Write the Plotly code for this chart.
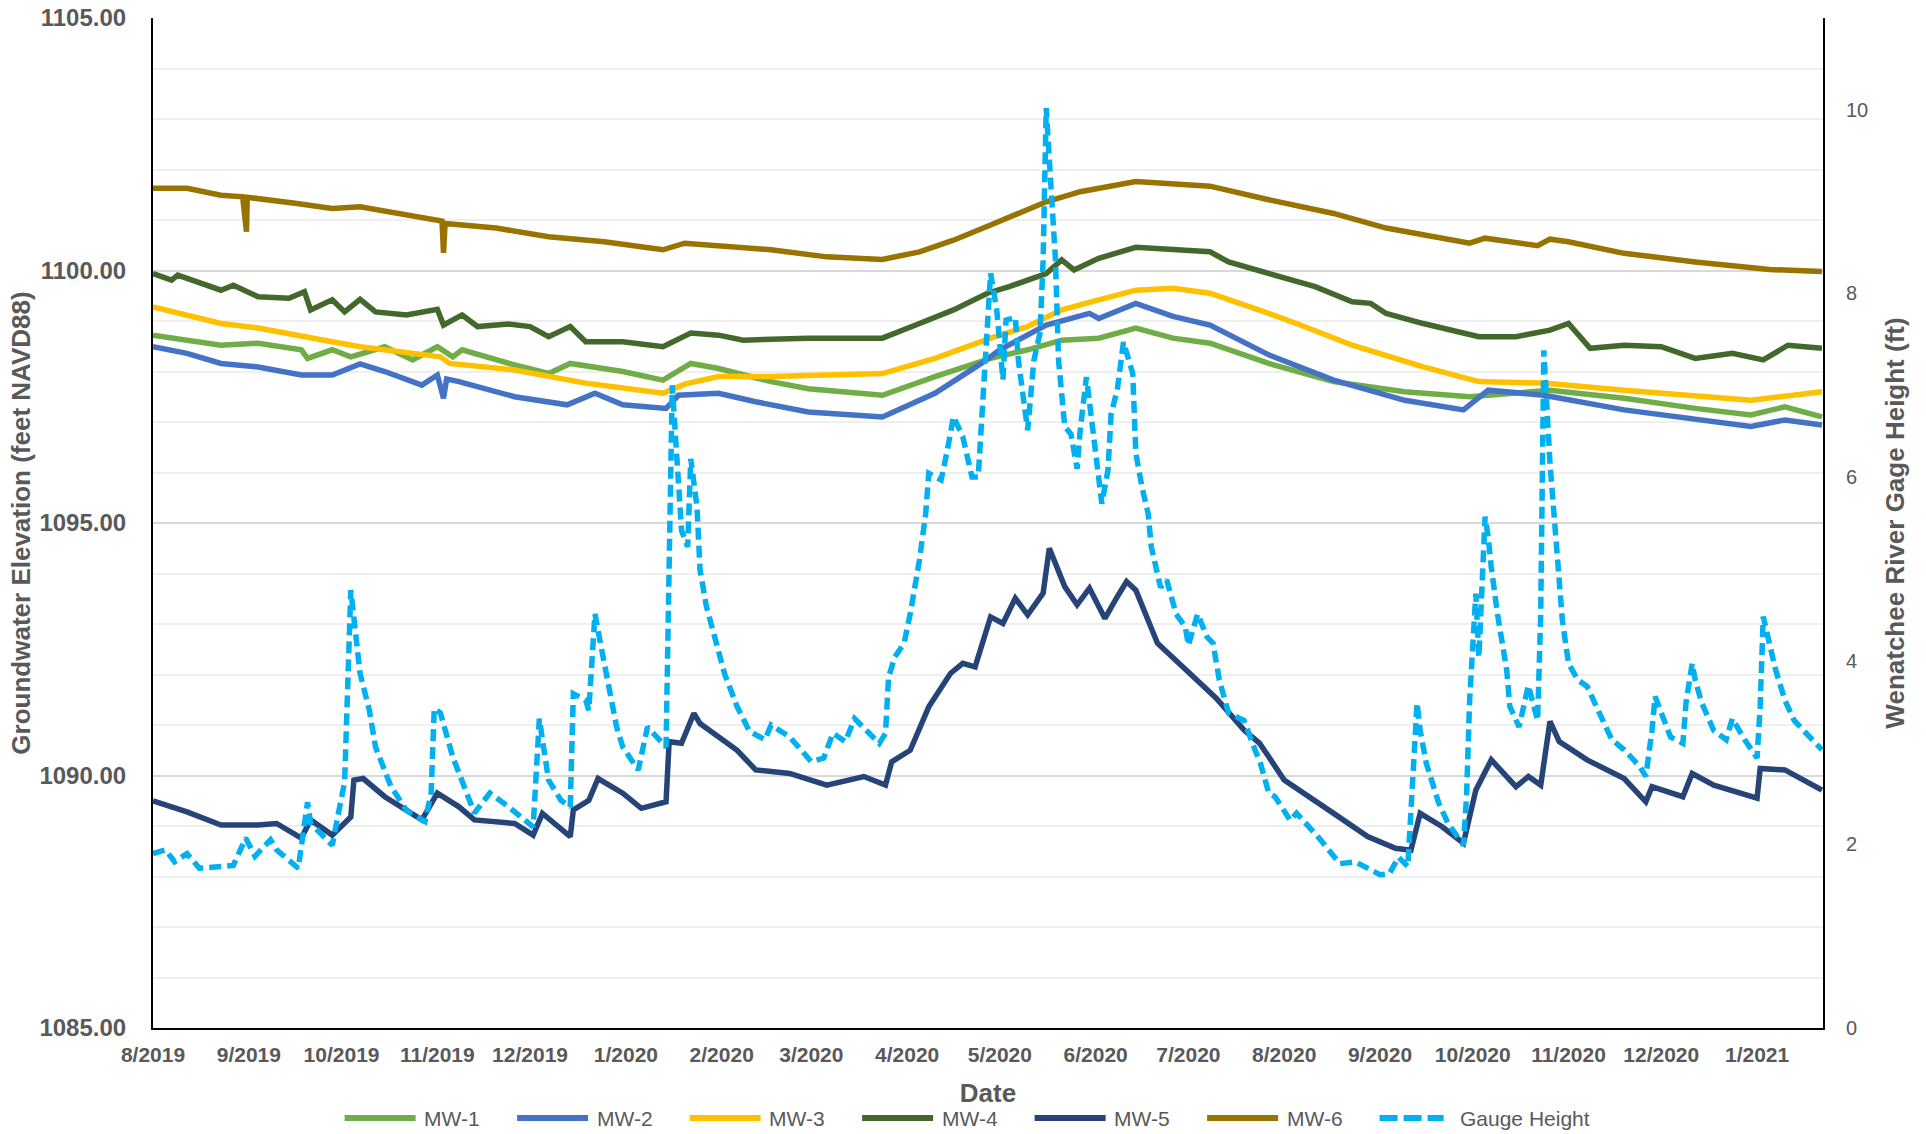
import plotly.graph_objects as go

# ---------------- data ----------------
mw1_dates = ["2019-08-01","2019-08-12","2019-08-23","2019-09-04","2019-09-18","2019-09-20","2019-09-28",
             "2019-10-04","2019-10-15","2019-10-24","2019-11-01","2019-11-06","2019-11-09","2019-11-26",
             "2019-12-07","2019-12-14","2019-12-31","2020-01-13","2020-01-22","2020-01-31","2020-02-17",
             "2020-02-29","2020-03-24","2020-04-10","2020-04-28","2020-05-10","2020-05-21","2020-06-02",
             "2020-06-14","2020-06-26","2020-07-08","2020-07-27","2020-08-17","2020-09-09","2020-09-30",
             "2020-10-26","2020-11-19","2020-12-12","2020-12-30","2021-01-10","2021-01-22"]
mw1_vals = [1098.72,1098.62,1098.52,1098.56,1098.43,1098.26,1098.43,
            1098.29,1098.49,1098.23,1098.49,1098.29,1098.43,1098.13,
            1097.96,1098.16,1098.00,1097.83,1098.16,1098.06,1097.80,
            1097.66,1097.53,1097.90,1098.26,1098.43,1098.62,1098.66,
            1098.86,1098.66,1098.56,1098.16,1097.80,1097.60,1097.50,
            1097.63,1097.47,1097.27,1097.14,1097.30,1097.10]

mw2_dates = ["2019-08-01","2019-08-12","2019-08-23","2019-09-04","2019-09-18","2019-09-28","2019-10-07",
             "2019-10-15","2019-10-27","2019-11-01","2019-11-03","2019-11-04","2019-11-08","2019-11-26",
             "2019-12-13","2019-12-22","2019-12-31","2020-01-14","2020-01-18","2020-01-31","2020-02-12",
             "2020-02-29","2020-03-24","2020-04-10","2020-04-25","2020-05-01","2020-05-16","2020-05-30",
             "2020-06-02","2020-06-14","2020-06-26","2020-07-08","2020-07-27","2020-08-17","2020-09-09",
             "2020-09-28","2020-10-06","2020-10-24","2020-11-19","2020-12-12","2020-12-30","2021-01-10",
             "2021-01-22"]
mw2_vals = [1098.49,1098.36,1098.16,1098.09,1097.93,1097.93,1098.15,
            1098.00,1097.73,1097.93,1097.47,1097.85,1097.80,1097.50,
            1097.34,1097.57,1097.34,1097.27,1097.53,1097.57,1097.40,
            1097.20,1097.10,1097.57,1098.16,1098.43,1098.92,1099.15,
            1099.05,1099.35,1099.09,1098.92,1098.33,1097.83,1097.43,
            1097.24,1097.63,1097.53,1097.24,1097.04,1096.91,1097.04,
            1096.94]

mw3_dates = ["2019-08-01","2019-08-23","2019-09-04","2019-09-18","2019-09-28","2019-10-07","2019-10-22",
             "2019-11-02","2019-11-05","2019-11-26","2019-12-19","2020-01-13","2020-01-20","2020-01-31",
             "2020-02-17","2020-03-12","2020-03-24","2020-04-10","2020-04-28","2020-05-10","2020-05-21",
             "2020-06-02","2020-06-14","2020-06-26","2020-07-08","2020-07-27","2020-08-05","2020-08-23",
             "2020-09-15","2020-10-03","2020-10-24","2020-11-19","2020-12-12","2020-12-30","2021-01-22"]
mw3_vals = [1099.28,1098.95,1098.86,1098.69,1098.59,1098.49,1098.36,
            1098.29,1098.16,1098.03,1097.77,1097.57,1097.75,1097.90,
            1097.90,1097.93,1097.96,1098.26,1098.66,1098.89,1099.22,
            1099.42,1099.61,1099.65,1099.55,1099.15,1098.95,1098.52,
            1098.09,1097.80,1097.77,1097.63,1097.53,1097.43,1097.60]

mw4_dates = ["2019-08-01","2019-08-07","2019-08-09","2019-08-23","2019-08-27","2019-09-04","2019-09-14",
             "2019-09-19","2019-09-21","2019-09-28","2019-10-02","2019-10-07","2019-10-12","2019-10-22",
             "2019-11-01","2019-11-03","2019-11-09","2019-11-14","2019-11-24","2019-12-01","2019-12-07",
             "2019-12-14","2019-12-19","2019-12-31","2020-01-13","2020-01-22","2020-01-31","2020-02-08",
             "2020-02-29","2020-03-24","2020-04-05","2020-04-16","2020-04-27","2020-05-04","2020-05-16",
             "2020-05-21","2020-05-25","2020-06-02","2020-06-14","2020-07-08","2020-07-14","2020-07-27",
             "2020-07-31","2020-08-11","2020-08-23","2020-08-29","2020-09-03","2020-09-15","2020-10-03",
             "2020-10-15","2020-10-26","2020-11-01","2020-11-08","2020-11-19","2020-12-01","2020-12-12",
             "2020-12-24","2021-01-03","2021-01-11","2021-01-22"]
mw4_vals = [1099.94,1099.81,1099.91,1099.61,1099.71,1099.48,1099.45,
            1099.58,1099.22,1099.42,1099.18,1099.43,1099.18,1099.12,
            1099.23,1098.92,1099.12,1098.89,1098.94,1098.89,1098.69,
            1098.89,1098.59,1098.59,1098.49,1098.76,1098.72,1098.62,
            1098.66,1098.66,1098.95,1099.22,1099.55,1099.68,1099.94,
            1100.21,1100.01,1100.24,1100.46,1100.37,1100.17,1099.94,
            1099.85,1099.68,1099.38,1099.35,1099.15,1098.95,1098.69,
            1098.69,1098.82,1098.95,1098.46,1098.52,1098.49,1098.26,
            1098.36,1098.23,1098.52,1098.46]

mw5_dates = ["2019-08-01","2019-08-12","2019-08-23","2019-09-04","2019-09-10","2019-09-18","2019-09-21",
             "2019-09-28","2019-10-04","2019-10-05","2019-10-08","2019-10-15","2019-10-27","2019-11-01",
             "2019-11-08","2019-11-13","2019-11-26","2019-12-02","2019-12-05","2019-12-14","2019-12-15",
             "2019-12-20","2019-12-23","2019-12-31","2020-01-06","2020-01-14","2020-01-15","2020-01-19",
             "2020-01-23","2020-01-25","2020-02-06","2020-02-12","2020-02-23","2020-03-06","2020-03-18",
             "2020-03-25","2020-03-27","2020-04-02","2020-04-08","2020-04-15","2020-04-19","2020-04-23",
             "2020-04-28","2020-05-02","2020-05-06","2020-05-10","2020-05-15","2020-05-17","2020-05-22",
             "2020-05-26","2020-05-30","2020-06-04","2020-06-08","2020-06-11","2020-06-14","2020-06-21",
             "2020-07-02","2020-07-10","2020-07-19","2020-07-24","2020-07-27","2020-08-01","2020-08-17",
             "2020-08-28","2020-09-06","2020-09-11","2020-09-14","2020-09-21","2020-09-28","2020-10-02",
             "2020-10-07","2020-10-15","2020-10-19","2020-10-23","2020-10-26","2020-10-29","2020-11-07",
             "2020-11-19","2020-11-26","2020-11-28","2020-12-08","2020-12-11","2020-12-18","2021-01-01",
             "2021-01-02","2021-01-10","2021-01-22"]
mw5_vals = [1089.50,1089.28,1089.02,1089.02,1089.05,1088.76,1089.12,
            1088.82,1089.18,1089.91,1089.94,1089.58,1089.12,1089.65,
            1089.38,1089.12,1089.05,1088.82,1089.25,1088.79,1089.32,
            1089.51,1089.94,1089.65,1089.35,1089.48,1090.67,1090.64,
            1091.23,1091.03,1090.50,1090.11,1090.04,1089.81,1089.98,
            1089.81,1090.27,1090.50,1091.36,1092.02,1092.22,1092.15,
            1093.14,1093.01,1093.51,1093.18,1093.61,1094.50,1093.74,
            1093.38,1093.71,1093.11,1093.54,1093.84,1093.67,1092.62,
            1091.99,1091.53,1090.90,1090.64,1090.37,1089.91,1089.25,
            1088.79,1088.56,1088.52,1089.25,1088.99,1088.66,1089.71,
            1090.31,1089.78,1089.98,1089.81,1091.07,1090.67,1090.31,
            1089.94,1089.48,1089.78,1089.58,1090.04,1089.81,1089.55,
            1090.14,1090.11,1089.71]

mw6_dates = ["2019-08-01","2019-08-12","2019-08-23","2019-08-30","2019-08-31 06:00","2019-08-31 12:00",
             "2019-09-16","2019-09-28","2019-10-07","2019-10-22","2019-11-02 12:00","2019-11-03","2019-11-03 12:00",
             "2019-11-20","2019-12-07","2019-12-25","2020-01-13","2020-01-20","2020-01-31","2020-02-17",
             "2020-03-06","2020-03-24","2020-04-05","2020-04-16","2020-04-28","2020-05-10","2020-05-16",
             "2020-05-27","2020-06-14","2020-07-08","2020-07-27","2020-08-17","2020-09-03","2020-09-30",
             "2020-10-05","2020-10-22","2020-10-26","2020-11-01","2020-11-19","2020-12-12","2021-01-05",
             "2021-01-22"]
mw6_vals = [1101.63,1101.63,1101.49,1101.46,1100.77,1101.45,
            1101.33,1101.23,1101.26,1101.10,1100.98,1100.35,1100.93,
            1100.84,1100.67,1100.57,1100.41,1100.54,1100.49,1100.41,
            1100.27,1100.22,1100.37,1100.60,1100.90,1101.20,1101.36,
            1101.56,1101.76,1101.67,1101.40,1101.13,1100.84,1100.54,
            1100.64,1100.49,1100.62,1100.57,1100.34,1100.17,1100.02,
            1099.98]

gauge_dates = ["2019-08-01","2019-08-05","2019-08-08","2019-08-12","2019-08-16","2019-08-23","2019-08-27",
               "2019-08-31","2019-09-03","2019-09-08","2019-09-10","2019-09-17","2019-09-20","2019-09-21",
               "2019-09-28","2019-09-30","2019-10-02","2019-10-04","2019-10-05","2019-10-06","2019-10-07",
               "2019-10-10","2019-10-12","2019-10-17","2019-10-22","2019-10-28","2019-10-30","2019-10-31",
               "2019-11-02","2019-11-06","2019-11-10","2019-11-13","2019-11-18","2019-11-24","2019-12-02",
               "2019-12-04","2019-12-05","2019-12-07","2019-12-11","2019-12-14","2019-12-15","2019-12-19",
               "2019-12-20","2019-12-22","2019-12-24","2019-12-26","2019-12-29","2019-12-31","2020-01-05",
               "2020-01-08","2020-01-14","2020-01-16","2020-01-17","2020-01-19","2020-01-21","2020-01-22",
               "2020-01-24","2020-01-25","2020-01-27","2020-01-30","2020-02-02","2020-02-06","2020-02-10",
               "2020-02-15","2020-02-17","2020-02-23","2020-03-01","2020-03-05","2020-03-08","2020-03-12",
               "2020-03-15","2020-03-23","2020-03-25","2020-03-26","2020-03-28","2020-03-31","2020-04-02",
               "2020-04-05","2020-04-07","2020-04-08","2020-04-12","2020-04-14","2020-04-16","2020-04-19",
               "2020-04-22","2020-04-24","2020-04-26","2020-04-28","2020-04-30","2020-05-02","2020-05-03",
               "2020-05-06","2020-05-07","2020-05-10","2020-05-12","2020-05-14","2020-05-15","2020-05-16",
               "2020-05-19","2020-05-20","2020-05-22","2020-05-24","2020-05-26","2020-05-27","2020-05-29",
               "2020-05-31","2020-06-02","2020-06-03","2020-06-05","2020-06-06","2020-06-08","2020-06-10",
               "2020-06-13","2020-06-14","2020-06-16","2020-06-18","2020-06-19","2020-06-22","2020-06-24",
               "2020-06-27","2020-06-30","2020-07-01","2020-07-04","2020-07-07","2020-07-09","2020-07-11",
               "2020-07-14","2020-07-19","2020-07-23","2020-07-24","2020-07-27","2020-07-29","2020-08-03",
               "2020-08-05","2020-08-12","2020-08-19","2020-08-24","2020-09-01","2020-09-04","2020-09-07",
               "2020-09-10","2020-09-11","2020-09-13","2020-09-14","2020-09-16","2020-09-20","2020-09-23",
               "2020-09-28","2020-09-29","2020-09-30","2020-10-02","2020-10-03","2020-10-05","2020-10-06",
               "2020-10-07","2020-10-09","2020-10-12","2020-10-13","2020-10-16","2020-10-19","2020-10-22",
               "2020-10-23","2020-10-24","2020-10-26","2020-10-28","2020-10-30","2020-11-01","2020-11-04",
               "2020-11-07","2020-11-11","2020-11-15","2020-11-19","2020-11-24","2020-11-26","2020-11-28",
               "2020-11-29","2020-12-01","2020-12-04","2020-12-08","2020-12-09","2020-12-11","2020-12-12",
               "2020-12-14","2020-12-18","2020-12-22","2020-12-24","2020-12-28","2021-01-01","2021-01-02",
               "2021-01-03","2021-01-05","2021-01-07","2021-01-10","2021-01-13","2021-01-18","2021-01-22"]
gauge_vals = [1.90,1.94,1.81,1.90,1.74,1.76,1.77,
              2.07,1.87,2.05,1.94,1.74,2.46,2.23,
              1.99,2.34,2.68,4.77,4.44,4.08,3.86,
              3.46,3.06,2.63,2.37,2.25,2.56,3.48,
              3.43,2.95,2.59,2.34,2.56,2.41,2.19,
              3.37,3.14,2.70,2.48,2.41,3.64,3.57,
              3.46,4.51,4.15,3.79,3.28,3.06,2.81,
              3.28,3.06,7.00,6.51,5.42,5.24,6.20,
              5.68,4.99,4.60,4.22,3.85,3.50,3.23,
              3.14,3.30,3.17,2.90,2.94,3.21,3.12,
              3.37,3.10,3.21,3.82,4.04,4.19,4.51,
              5.10,5.60,6.04,5.97,6.29,6.66,6.44,
              6.00,6.00,7.06,8.22,7.82,7.06,7.71,
              7.74,7.27,6.51,7.27,7.57,8.36,10.02,
              8.36,7.27,6.55,6.47,6.09,6.51,7.09,
              6.51,6.00,5.71,6.08,6.69,6.95,7.47,
              7.13,6.26,5.89,5.60,5.24,4.80,4.88,
              4.51,4.37,4.17,4.51,4.26,4.19,3.79,
              3.43,3.35,2.99,2.92,2.56,2.52,2.26,
              2.34,2.08,1.79,1.81,1.67,1.68,1.86,
              1.76,2.34,3.54,3.24,2.88,2.45,2.23,
              1.99,2.52,3.57,4.73,4.04,5.57,5.35,
              5.02,4.51,3.90,3.50,3.28,3.73,3.35,
              4.51,7.38,6.15,5.24,4.44,3.97,3.79,
              3.72,3.43,3.14,3.03,2.85,2.74,3.24,
              3.61,3.43,3.17,3.10,3.54,3.97,3.79,
              3.55,3.24,3.14,3.37,3.14,2.94,3.50,
              4.48,4.19,3.90,3.57,3.35,3.17,3.03]

series_names = ["MW-1", "MW-2", "MW-3", "MW-4", "MW-5", "MW-6"]
series_dates = [mw1_dates, mw2_dates, mw3_dates, mw4_dates, mw5_dates, mw6_dates]
series_vals = [mw1_vals, mw2_vals, mw3_vals, mw4_vals, mw5_vals, mw6_vals]
series_colors = ["#70AD47", "#4472C4", "#FFC000", "#43682B", "#264478", "#997300"]
gauge_name = "Gauge Height"
gauge_color = "#00B0F0"

left_ticks = [1085, 1090, 1095, 1100, 1105]
right_ticks = [0, 2, 4, 6, 8, 10]

FONT = "Liberation Sans, Arial, sans-serif"
GRAY = "#595959"

fig = go.Figure()
for name, d, v, c in zip(series_names, series_dates, series_vals, series_colors):
    fig.add_trace(go.Scatter(x=d, y=v, mode="lines", name=name,
                             line=dict(color=c, width=5.5), showlegend=False))
fig.add_trace(go.Scatter(x=gauge_dates, y=gauge_vals, mode="lines", name=gauge_name, yaxis="y2",
                         line=dict(color=gauge_color, width=5.5, dash="12px,6px"), showlegend=False))

# ---------------- custom legend (long line symbols like the original) ----------------
PX0, PX1, PY0, PY1 = 153.0, 1823.0, 18.0, 1028.0
def px(xp):
    return (xp - PX0) / (PX1 - PX0)
def py(yp):
    return (PY1 - yp) / (PY1 - PY0)

legend_y = 1118
names_all = series_names + [gauge_name]
colors_all = series_colors + [gauge_color]
shapes = []
annotations = []
for i, (n, c) in enumerate(zip(names_all, colors_all)):
    x0 = 344.6 + 172.5 * i
    x1 = x0 + (64 if n == gauge_name else 71)
    shapes.append(dict(type="line", xref="paper", yref="paper",
                       x0=px(x0), x1=px(x1), y0=py(legend_y), y1=py(legend_y),
                       line=dict(color=c, width=6, dash="18px,6px" if n == gauge_name else "solid")))
    tx = x0 + (78 if n == gauge_name else 77.5)
    annotations.append(dict(text=n, xref="paper", yref="paper", x=px(tx), y=py(legend_y),
                            xanchor="left", yanchor="middle", showarrow=False,
                            font=dict(family=FONT, size=21, color=GRAY)))

W, H = 1926, 1134   # body margin removed by post_script below
fig.update_layout(
    width=W, height=H,
    margin=dict(l=int(PX0), r=W - int(PX1), t=int(PY0), b=H - int(PY1)),
    paper_bgcolor="white", plot_bgcolor="white",
    showlegend=False, hovermode=False,
    shapes=shapes, annotations=annotations,
    xaxis=dict(
        type="date", automargin=False,
        range=["2019-08-01", "2021-01-22 08:00"],
        tick0="2019-08-01", dtick="M1", tickformat="%-m/%Y",
        showgrid=False, zeroline=False,
        showline=True, linecolor="black", linewidth=2,
        ticks="", ticklabelstandoff=7,
        tickfont=dict(family=FONT, size=21, color=GRAY, weight="bold"),
        title=dict(text="Date", standoff=19,
                   font=dict(family=FONT, size=26, color=GRAY, weight="bold")),
    ),
    yaxis=dict(
        automargin=False, ticklabeloverflow="allow",
        range=[1085, 1105.0001], tickmode="array", tickvals=left_ticks,
        ticktext=[f"{t:.2f}" for t in left_ticks],
        showgrid=True, gridcolor="#d9d9d9", gridwidth=2,
        minor=dict(dtick=1, tick0=1085, showgrid=True, gridcolor="#efefef", gridwidth=2),
        zeroline=False,
        showline=True, linecolor="black", linewidth=2,
        ticks="", ticklabelstandoff=20,
        tickfont=dict(family=FONT, size=24, color=GRAY, weight="bold"),
        title=dict(text="Groundwater Elevation (feet NAVD88)", standoff=1,
                   font=dict(family=FONT, size=26, color=GRAY, weight="bold")),
    ),
    yaxis2=dict(
        automargin=False,
        overlaying="y", side="right",
        range=[0, 11], tickmode="array", tickvals=right_ticks,
        showgrid=False, zeroline=False,
        showline=True, linecolor="black", linewidth=2,
        ticks="", ticklabelstandoff=17,
        tickfont=dict(family=FONT, size=20, color=GRAY),
        title=dict(text="Wenatchee River Gage Height (ft)", standoff=19,
                   font=dict(family=FONT, size=26, color=GRAY, weight="bold")),
    ),
)

fig.write_html("out.html",
               config={"displayModeBar": False},
               post_script="document.body.style.margin='0';document.body.style.overflow='hidden';")
